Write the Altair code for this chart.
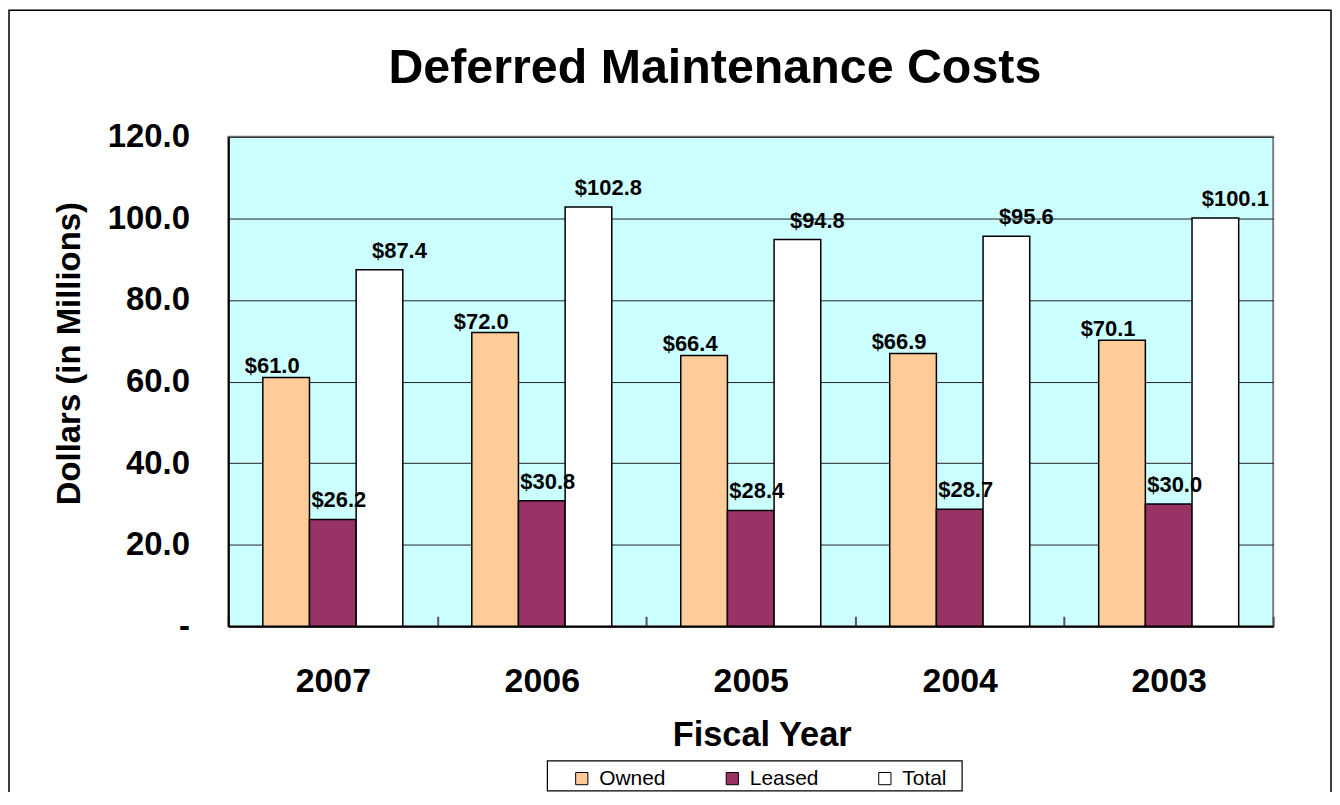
import altair as alt
import pandas as pd

years = ["2007", "2006", "2005", "2004", "2003"]
owned = [61.0, 72.0, 66.4, 66.9, 70.1]
leased = [26.2, 30.8, 28.4, 28.7, 30.0]
total = [87.4, 102.8, 94.8, 95.6, 100.1]
series = ["Owned", "Leased", "Total"]
colors = ["#FFCC99", "#993366", "#FFFFFF"]
y_ticks = [0, 20, 40, 60, 80, 100, 120]

rows = []
for i, yr in enumerate(years):
    for s, vals in zip(series, [owned, leased, total]):
        rows.append({"Year": yr, "Series": s, "Value": vals[i], "Label": f"${vals[i]:.1f}"})
df = pd.DataFrame(rows)

FONT = "Liberation Sans"

x_axis = alt.Axis(
    title="Fiscal Year", labelAngle=0, ticks=False, labelPadding=65,
    labelBaseline="alphabetic", labelFont=FONT, labelFontSize=34,
    labelFontWeight="bold", labelColor="black",
    titleFont=FONT, titleFontSize=34.5, titleFontWeight="bold", titleColor="black",
    titleX=535, titleY=120, titleBaseline="alphabetic", titleAlign="center",
    domainColor="black", domainWidth=2,
    grid=True, tickBand="extent", gridDash=[0, 481, 10, 2000], gridColor="#555555", gridWidth=2,
)
x_scale = alt.Scale(paddingInner=0, paddingOuter=0)
x_enc = alt.X("Year:N", sort=years, scale=x_scale, axis=x_axis)
xo_enc = alt.XOffset("Series:N", sort=series, scale=alt.Scale(paddingInner=0, paddingOuter=0.739))
y_enc = alt.Y(
    "Value:Q",
    scale=alt.Scale(domain=[0, 120], nice=False),
    axis=alt.Axis(
        title="Dollars (in Millions)", values=y_ticks,
        labelExpr="datum.value == 0 ? '-\u00a0\u00a0\u00a0' : format(datum.value, '.1f')",
        ticks=False, labelPadding=39, labelFont=FONT, labelFontSize=33,
        labelFontWeight="bold", labelColor="black",
        domainColor="black", domainWidth=2, gridColor="#222222", gridWidth=1,
        titleFont=FONT, titleFontSize=33, titleFontWeight="bold", titleColor="black",
        titleX=-149, titleY=217, titleAngle=270, titleBaseline="alphabetic", titleAlign="center",
    ),
)

base = alt.Chart(df).encode(x=x_enc, xOffset=xo_enc, y=y_enc)

bars = base.mark_bar(stroke="black", strokeWidth=1.5).encode(
    color=alt.Color(
        "Series:N", sort=series,
        scale=alt.Scale(domain=series, range=colors),
        legend=alt.Legend(
            orient="none", legendX=344, legendY=633, direction="horizontal",
            title=None, symbolType="square", symbolSize=150,
            symbolStrokeColor="black", symbolStrokeWidth=1,
            labelFont=FONT, labelFontSize=21, labelColor="black",
            labelOffset=7, columnPadding=56, padding=0,
        ),
    )
)

label_dx = {"Owned": -14, "Leased": 6, "Total": 20}
label_dy = {"Owned": -4, "Leased": -12, "Total": -12}
label_layers = [
    base.transform_filter(alt.datum.Series == s).mark_text(
        font=FONT, fontSize=22, fontWeight="bold", baseline="alphabetic",
        dx=label_dx[s], dy=label_dy[s], color="black",
    ).encode(text="Label:N")
    for s in series
]

one = pd.DataFrame({"k": [0]})
frame = alt.Chart(one).mark_rect(fill="white", fillOpacity=0, stroke="black", strokeWidth=1.5).encode(
    x=alt.value(-220), x2=alt.value(1106), y=alt.value(-127), y2=alt.value(700)
)
legend_box = alt.Chart(one).mark_rect(fill="white", stroke="black", strokeWidth=1.2).encode(
    x=alt.value(320), x2=alt.value(736), y=alt.value(626), y2=alt.value(656)
)

chart = alt.layer(frame, legend_box, bars, *label_layers).properties(
    width=1048, height=491,
    autosize=alt.AutoSizeParams(type="none"),
    padding={"left": 221, "top": 128, "right": 59, "bottom": 165},
    title=alt.Title(
        "Deferred Maintenance Costs", font=FONT, fontSize=48.5, fontWeight="bold",
        color="black", anchor="middle", dx=-36, offset=0, dy=122, baseline="alphabetic",
    ),
).configure(background="white").configure_view(fill="#CCFFFF", stroke="#808080", strokeWidth=2)

chart.save("out.html", embed_options={"renderer": "svg", "actions": False})
